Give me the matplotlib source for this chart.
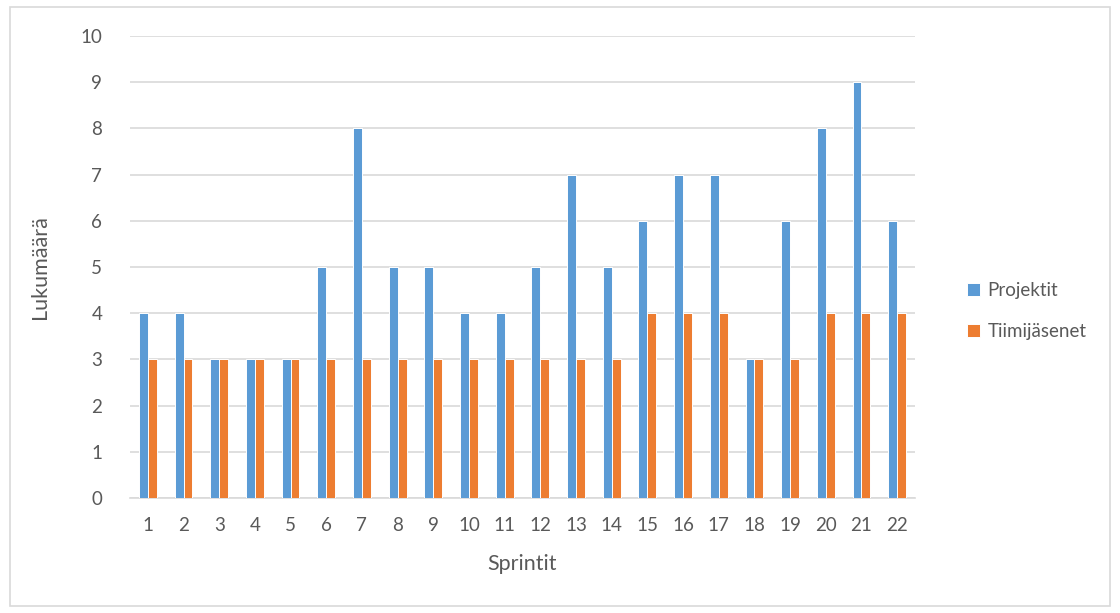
import matplotlib
matplotlib.use("Agg")
import matplotlib.pyplot as plt
import numpy as np
from matplotlib.patches import Rectangle

sprints = [str(i) for i in range(1, 23)]
projektit = [4, 4, 3, 3, 3, 5, 8, 5, 5, 4, 4, 5, 7, 5, 6, 7, 7, 3, 6, 8, 9, 6]
tiimijasenet = [3, 3, 3, 3, 3, 3, 3, 3, 3, 3, 3, 3, 3, 3, 4, 4, 4, 3, 3, 4, 4, 4]

plt.rcParams['font.family'] = ['Lato', 'DejaVu Sans']
txt = '#595959'

fig = plt.figure(figsize=(11.2, 6.13), dpi=100)
fig.patches.append(Rectangle((10/1120, 1-606/613), 1100/1120, 599/613, transform=fig.transFigure,
                             fill=False, edgecolor='#D9D9D9', linewidth=1.2))
ax = fig.add_axes([130/1120, 1-498/613, 785/1120, 462/613])

x = np.arange(1, len(sprints) + 1)
w = 0.25
ax.bar(x - w/2, projektit, w, color='#5B9BD5', edgecolor='white', linewidth=0.7, label='Projektit', zorder=3)
ax.bar(x + w/2, tiimijasenet, w, color='#ED7D31', edgecolor='white', linewidth=0.7, label='Tiimijäsenet', zorder=3)

ax.set_xlim(0.5, 22.5)
ax.set_ylim(0, 10)
ax.set_yticks(range(0, 11))
ax.set_xticks(x)
ax.set_xticklabels(sprints)
ax.grid(axis='y', color='#D9D9D9', linewidth=1.2, zorder=0)
for s in ['top', 'right', 'left']:
    ax.spines[s].set_visible(False)
ax.spines['bottom'].set_color('#D9D9D9')
ax.spines['bottom'].set_linewidth(1.2)
ax.tick_params(axis='both', length=0, labelsize=13.5, labelcolor=txt)
ax.tick_params(axis='y', pad=20)
ax.tick_params(axis='x', pad=14)
ax.set_xlabel('Sprintit', fontsize=15.5, color=txt, labelpad=14)
ax.set_ylabel('Lukumäärä', fontsize=15.5, color=txt, labelpad=22)

leg = fig.legend(loc='center left', bbox_to_anchor=(950/1120, 1-311/613), frameon=False,
                 fontsize=13.5, handlelength=0.7, handleheight=0.7, handletextpad=0.4,
                 labelspacing=1.25, labelcolor=txt)

fig.savefig('out.png', dpi=100)
